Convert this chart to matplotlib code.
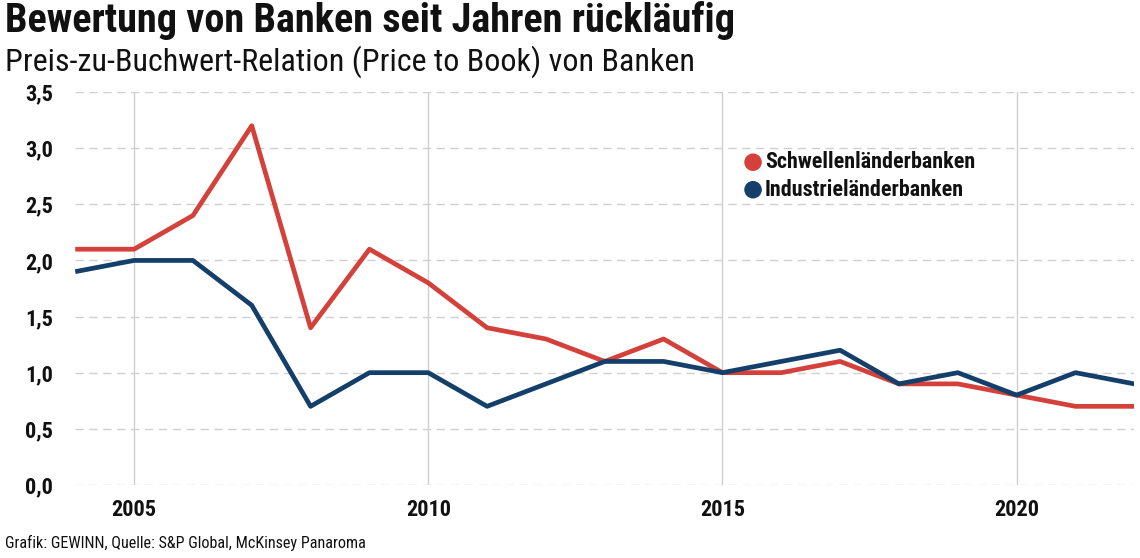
import matplotlib
matplotlib.use("Agg")
import matplotlib.pyplot as plt

# Daten
jahre = list(range(2004, 2023))
schwellen = [2.1, 2.1, 2.4, 3.2, 1.4, 2.1, 1.8, 1.4, 1.3, 1.1, 1.3, 1.0, 1.0, 1.1, 0.9, 0.9, 0.8, 0.7, 0.7]
industrie = [1.9, 2.0, 2.0, 1.6, 0.7, 1.0, 1.0, 0.7, 0.9, 1.1, 1.1, 1.0, 1.1, 1.2, 0.9, 1.0, 0.8, 1.0, 0.9]
serien = ["Schwellenländerbanken", "Industrieländerbanken"]
y_ticks = [0, 0.5, 1.0, 1.5, 2.0, 2.5, 3.0, 3.5]
x_ticks = [2005, 2010, 2015, 2020]

rot = "#d4403a"
blau = "#143f6a"

plt.rcParams["font.family"] = ["Roboto Condensed", "DejaVu Sans"]

fig = plt.figure(figsize=(11.4, 5.58), dpi=100)
ax = fig.add_axes([0.066, 0.131, 0.929, 0.704])

ax.plot(jahre, schwellen, color=rot, lw=3.4, solid_capstyle="butt", zorder=3)
ax.plot(jahre, industrie, color=blau, lw=3.4, solid_capstyle="butt", zorder=4)

ax.set_xlim(2004, 2022)
ax.set_ylim(0, 3.5)
ax.set_yticks(y_ticks)
ax.set_yticklabels([f"{v:.1f}".replace(".", ",") for v in y_ticks])
ax.set_xticks(x_ticks)
ax.set_xticklabels([str(j) for j in x_ticks])
for s in ax.spines.values():
    s.set_visible(False)
ax.tick_params(length=0, labelsize=16)
ax.tick_params(axis="y", pad=16)
ax.tick_params(axis="x", pad=10)
for t in ax.get_xticklabels() + ax.get_yticklabels():
    t.set_fontweight("bold")
    t.set_color("#111111")

ax.yaxis.grid(True, color="#d0d0d0", lw=1, ls=(0, (6, 4)))
ax.xaxis.grid(True, color="#d0d0d0", lw=1, ls="-")
ax.set_axisbelow(True)

# Legende
leg_y = [2.875, 2.63]
ax.scatter([2015.52] * 2, leg_y, s=135, color=[rot, blau], zorder=5)
for yv, name in zip(leg_y, serien):
    ax.text(2015.72, yv, name, fontsize=15.8, fontweight="bold", va="center", ha="left", color="#111111")

fig.text(0.004, 0.963, "Bewertung von Banken seit Jahren rückläufig", fontsize=29, fontweight="bold",
         va="center", ha="left", color="#111111")
fig.text(0.004, 0.889, "Preis-zu-Buchwert-Relation (Price to Book) von Banken", fontsize=23,
         va="center", ha="left", color="#111111")
fig.text(0.004, 0.027, "Grafik: GEWINN, Quelle: S&P Global, McKinsey Panaroma", fontsize=11.6,
         va="center", ha="left", color="#111111")

fig.savefig("out.png", dpi=100)
